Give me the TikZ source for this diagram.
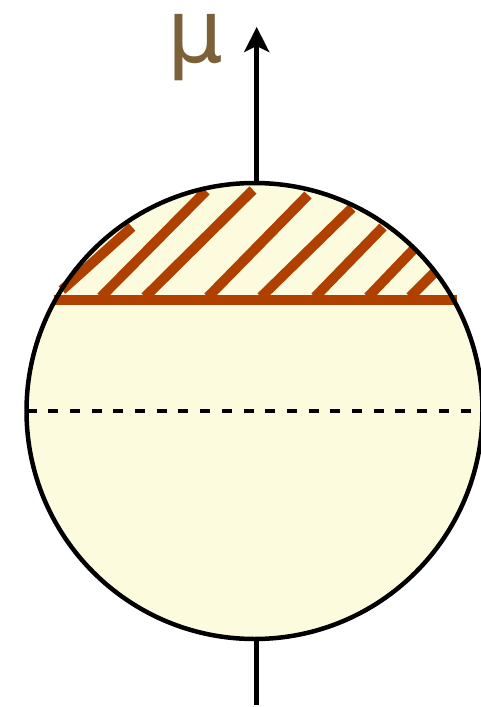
\documentclass[tikz,border=0pt]{standalone}
\usepackage{fontspec}
\newfontfamily\mufont{DejaVu Sans}
\usetikzlibrary{arrows.meta}
\definecolor{spherefill}{RGB}{252,251,222}
\definecolor{hatchcol}{RGB}{176,64,0}
\definecolor{mucol}{RGB}{123,96,57}
\tikzset{
  outline/.style={line width=4.5pt, draw=black},
  hatchline/.style={line width=10pt, draw=hatchcol},
  axisline/.style={line width=4.5pt, draw=black},
  equator/.style={line width=4.5pt, draw=black, dash pattern=on 10pt off 11.7pt},
}
\begin{document}
\begin{tikzpicture}[x=1pt,y=-1pt]
\useasboundingbox (0,0) rectangle (481,707);
\coordinate (c) at (254.5,411);
\coordinate (top) at (256.7,183);
\coordinate (tip) at (256.7,27);
\coordinate (bot) at (256.7,639);
\coordinate (botend) at (256.7,705);
\coordinate (eqL) at (26.5,411);
\coordinate (eqR) at (482.5,411);
% sphere fill
\fill[spherefill] (c) circle[radius=228];
% hatching
\foreach \ax/\ay/\bx/\by in {62/290/132/227, 101/297/206/191, 145/297/253/190, 208/297/308/195, 261/297/352/208, 315/297/383/227, 368/297/413/250, 410/297/435/272}
  \draw[hatchline] (\ax,\ay) -- (\bx,\by);
\draw[hatchline] (54,300) -- (457,300);
% equator
\draw[equator] (eqL) -- (eqR);
% outline
\draw[outline] (c) circle[radius=228];
% axis
\draw[axisline, -{Stealth[length=25pt,width=25pt,inset=6pt]}] (top) -- (tip);
\draw[axisline] (bot) -- (botend);
\node[text=mucol, inner sep=0pt, font=\mufont\fontsize{88}{88}\selectfont] (mu) at (195,48) {μ};
\end{tikzpicture}
\end{document}
